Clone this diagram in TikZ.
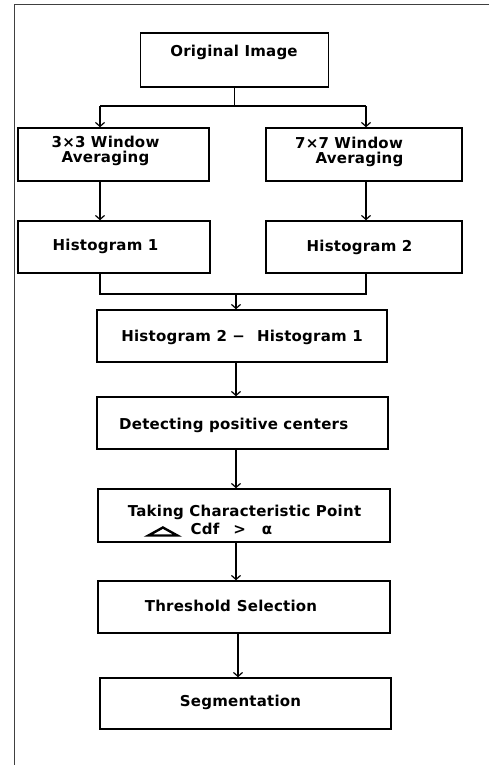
\documentclass[tikz,border=0pt]{standalone}
\usepackage{fontspec}
\setmainfont{DejaVu Sans}[BoldFont={* Bold},LetterSpace=1.5]
\usetikzlibrary{arrows.meta}
\begin{document}
\begin{tikzpicture}[x=1bp,y=-1bp,
  box/.style={draw,line width=1.5bp,minimum width=#1,minimum height=52bp,inner sep=0pt},
  txt/.style={anchor=base,inner sep=0pt,font=\fontsize{15bp}{17bp}\selectfont\bfseries},
  link/.style={line width=1.4bp},
  arr/.style={line width=1.4bp,-{Straight Barb[length=4bp,width=9bp,line width=1.2bp]}},
  frame/.style={line width=1bp,black!75}]
\useasboundingbox (0,0) rectangle (491,767);
% frame
\coordinate (fa) at (14,5);
\coordinate (fb) at (489,5);
\coordinate (fc) at (14,765);
\draw[frame] (fb) -- (fa) -- (fc);
% boxes
\node[box=188bp,minimum height=54bp] (orig) at (234.5,60) {};
\node[box=191bp,minimum height=53bp] (w3) at (113.5,154.5) {};
\node[box=196bp,minimum height=53bp] (w7) at (364,154.5) {};
\node[box=192bp] (h1) at (114,247) {};
\node[box=196bp] (h2) at (364,247) {};
\node[box=290bp] (diff) at (242,336) {};
\node[box=291bp] (det) at (242.5,423) {};
\node[box=292bp,minimum height=53bp] (take) at (244,515.5) {};
\node[box=292bp] (thr) at (244,607) {};
\node[box=291bp,minimum height=51bp] (seg) at (245.5,703.5) {};
% texts
\node[txt] (torig) at (234,56.5) {Original Image};
\node[txt] (tw3a) at (105.5,147) {3×3 Window};
\node[txt] (tw3b) at (105.5,162.5) {Averaging};
\node[txt] (tw7a) at (349,148) {7×7 Window};
\node[txt] (tw7b) at (359.5,163.5) {Averaging};
\node[txt] (th1) at (105.5,250) {Histogram 1};
\node[txt] (th2) at (359.5,251) {Histogram 2};
\node[txt] (tdiff) at (242,341) {Histogram 2 −\hspace{12bp}Histogram 1};
\node[txt] (tdet) at (233.7,429) {Detecting positive centers};
\node[txt] (ttake) at (244.5,516.5) {Taking Characteristic Point};
\node[txt,anchor=base west] (ttake2) at (147,534) {\tikz[x=1bp,y=1bp,baseline=1.5bp]\draw[line width=2.4bp,line join=miter] (1,0) -- (15.5,8) -- (30,0) -- cycle;\hspace{12bp}Cdf\hspace{14bp}>\hspace{16bp}α};
\node[txt] (tthr) at (231,611.5) {Threshold\hspace{6bp}Selection};
\node[txt] (tseg) at (240.5,706.5) {Segmentation};
% connectors
\coordinate (j1) at (234.5,106);
\coordinate (a3) at (100,106);
\coordinate (a7) at (366,106);
\draw[link] (orig.south) -- (j1);
\draw[link] (a3) -- (a7);
\draw[arr] (a3) -- (a3 |- w3.north);
\draw[arr] (a7) -- (a7 |- w7.north);
\coordinate (b3) at (100,181);
\coordinate (b7) at (366,181);
\draw[arr] (b3) -- (b3 |- h1.north);
\draw[arr] (b7) -- (b7 |- h2.north);
\coordinate (c3) at (100,294);
\coordinate (c7) at (366,294);
\coordinate (cm) at (236,294);
\draw[link] (b3 |- h1.south) -- (c3) -- (c7) -- (b7 |- h2.south);
\draw[arr] (cm) -- (cm |- diff.north);
\coordinate (d1) at (236,362);
\draw[arr] (d1) -- (d1 |- det.north);
\coordinate (d2) at (236,449);
\draw[arr] (d2) -- (d2 |- take.north);
\coordinate (d3) at (236,542);
\draw[arr] (d3) -- (d3 |- thr.north);
\coordinate (d4) at (238,633);
\draw[arr] (d4) -- (d4 |- seg.north);
\end{tikzpicture}
\end{document}
